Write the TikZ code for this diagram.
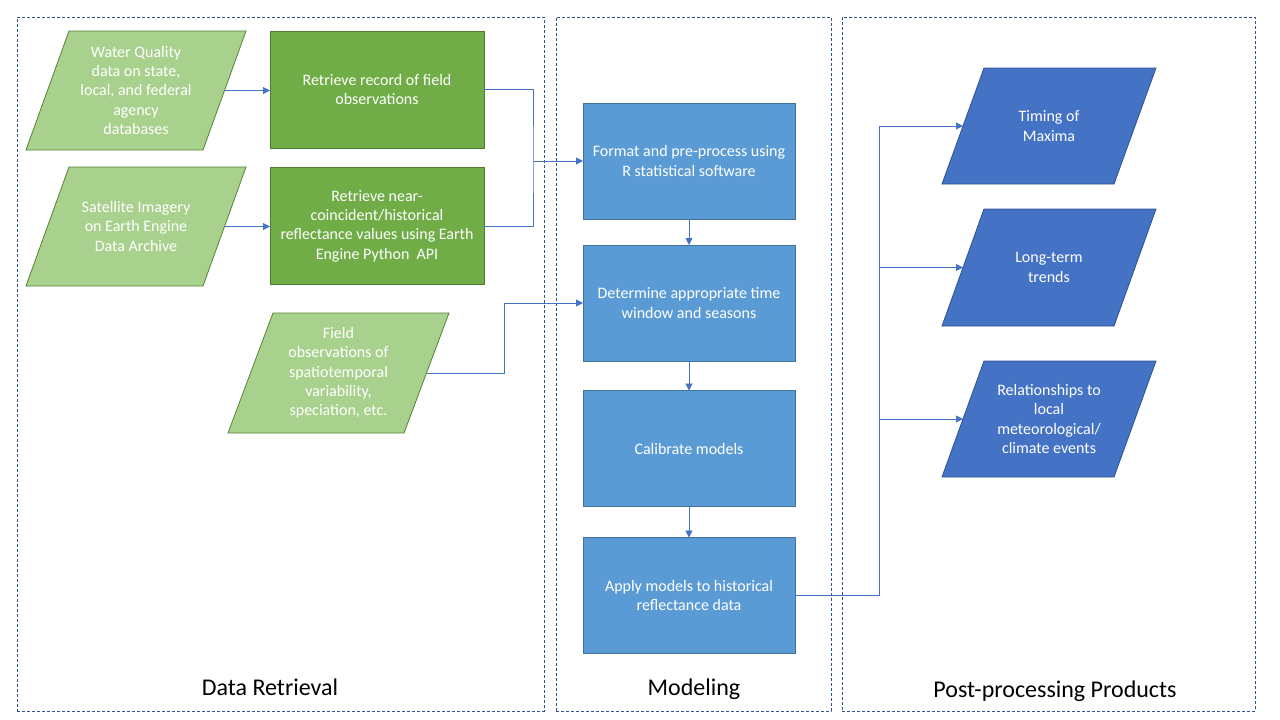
\documentclass[tikz,border=0pt]{standalone}
\usepackage{fontspec}
\setmainfont{Carlito}
\usetikzlibrary{arrows.meta,backgrounds,calc}
\definecolor{lgreen}{HTML}{A9D18E}
\definecolor{lgreenb}{HTML}{548235}
\definecolor{dgreen}{HTML}{70AD47}
\definecolor{dgreenb}{HTML}{507E32}
\definecolor{mblue}{HTML}{5B9BD5}
\definecolor{mblueb}{HTML}{41719C}
\definecolor{dblue}{HTML}{4472C4}
\definecolor{dblueb}{HTML}{2F528F}
\definecolor{panelc}{HTML}{2F5597}
\definecolor{connc}{HTML}{4472C4}
\newcommand\drawpara[4]{%
  \begin{scope}[on background layer]
    \filldraw[fill=#3, draw=#4, line width=0.8pt]
      ([xshift=#2]#1.north west) -- ([xshift=#2]#1.north east) --
      ([xshift=-#2]#1.south east) -- ([xshift=-#2]#1.south west) -- cycle;
  \end{scope}}
\begin{document}
\begin{tikzpicture}[x=1pt,y=-1pt,
  txt/.style={font=\fontsize{16}{19.3}\selectfont, text=white, align=center, inner sep=0pt, outer sep=0pt},
  gbox/.style={txt, rectangle, draw=dgreenb, fill=dgreen, line width=0.8pt, minimum width=214pt, minimum height=117pt},
  bbox/.style={txt, rectangle, draw=mblueb, fill=mblue, line width=0.8pt, minimum width=212pt, minimum height=116pt},
  parabox/.style={txt, rectangle, minimum width=#1},
  panel/.style={rectangle, draw=panelc, dash pattern=on 3pt off 2pt, line width=0.8pt, inner sep=0pt, outer sep=0pt},
  title/.style={font=\fontsize{24}{28}\selectfont, text=black, inner sep=0pt, anchor=base},
  conn/.style={draw=connc, line width=0.9pt, -{Triangle[length=7pt,width=7pt]}},
  plainline/.style={draw=connc, line width=0.9pt}]

\useasboundingbox (0,0) rectangle (1280,720);

% panels
\node[panel, minimum width=527pt, minimum height=694pt] (pdr) at (280.5,364) {};
\node[panel, minimum width=275pt, minimum height=694pt] (pmod) at (693.5,364) {};
\node[panel, minimum width=413pt, minimum height=694pt] (ppost) at (1048.5,364) {};

\node[title] (t1) at (270,695) {Data Retrieval};
\node[title] (t2) at (694,695) {Modeling};
\node[title] (t3) at (1055,697) {Post-processing Products};

% input parallelograms
\node[parabox=177pt, minimum height=119pt] (p1) at (136,90.5)
  {Water Quality\\data on state,\\local, and federal\\agency\\databases};
\drawpara{p1}{21.5pt}{lgreen}{lgreenb}
\node[parabox=177pt, minimum height=119pt] (p2) at (136,226.5)
  {Satellite Imagery\\on Earth Engine\\Data Archive};
\drawpara{p2}{21.5pt}{lgreen}{lgreenb}
\node[parabox=176pt, minimum height=120pt] (p3) at (338.5,373)
  {Field\\observations of\\spatiotemporal\\variability,\\speciation, etc.};
\drawpara{p3}{22.5pt}{lgreen}{lgreenb}

% green boxes
\node[gbox] (b1) at (377,89.5) {Retrieve record of field\\observations};
\node[gbox] (b2) at (377,226) {Retrieve near-\\coincident/historical\\reflectance values using Earth\\Engine Python\ \ API};

% modeling boxes
\node[bbox] (fmt) at (689,161) {Format and pre-process using\\R statistical software};
\node[bbox] (det) at (689,303) {Determine appropriate time\\window and seasons};
\node[bbox] (cal) at (689,448.5) {Calibrate models};
\node[bbox] (app) at (689,595.5) {Apply models to historical\\reflectance data};

% output parallelograms
\node[parabox=172pt, minimum height=116pt] (r1) at (1049,126) {Timing of\\Maxima};
\drawpara{r1}{21pt}{dblue}{dblueb}
\node[parabox=172pt, minimum height=117pt] (r2) at (1049,267.5) {Long-term\\trends};
\drawpara{r2}{21pt}{dblue}{dblueb}
\node[parabox=172pt, minimum height=116pt] (r3) at (1049,419) {Relationships to\\local\\meteorological/\\climate events};
\drawpara{r3}{21pt}{dblue}{dblueb}

% connectors
\coordinate (j) at (533,161);
\coordinate (k) at (504,303);
\coordinate (m) at (879,0);

\draw[conn] (p1.east) -- (p1.east -| b1.west);
\draw[conn] (p2.east) -- (p2.east -| b2.west);
\draw[plainline] (b1.east) -| (j) |- (b2.east);
\draw[conn] (j) -- (j -| fmt.west);
\draw[conn] (p3.east) -| (k) -- (k -| det.west);

\draw[conn] (fmt.south) -- (det.north);
\draw[conn] (det.south) -- (cal.north);
\draw[conn] (cal.south) -- (app.north);

\draw[conn] (app.east) -| (m |- r1.west) -- (r1.west);
\draw[conn] (m |- r2.west) -- (r2.west);
\draw[conn] (m |- r3.west) -- (r3.west);
\end{tikzpicture}
\end{document}
